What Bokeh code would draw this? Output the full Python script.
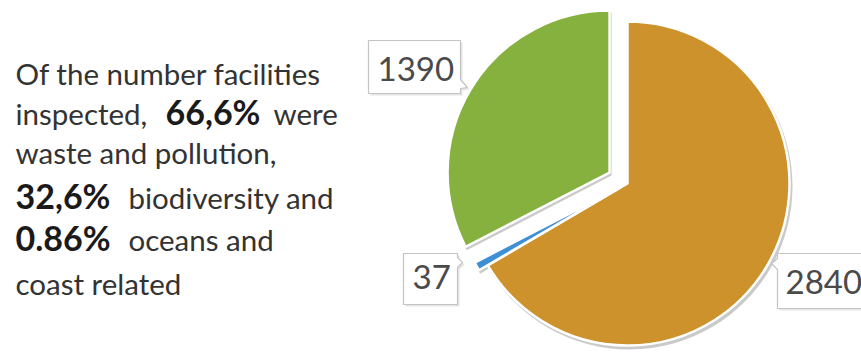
import numpy as np
from bokeh.plotting import figure
from bokeh.models import ColumnDataSource, Range1d
from bokeh.core.properties import value
from bokeh.embed import file_html
from bokeh.resources import INLINE

# ---- data ----
categories = ["Waste and pollution", "Oceans and coast", "Biodiversity"]
counts = [2840, 37, 1390]
colors = ["#CE922C", "#3D8FD6", "#86B13F"]
labels = ["2840", "37", "1390"]

# text block: (text, bold) segments per line
text_lines = [
    [("Of the number facilities", False)],
    [("inspected,", False), ("66,6%", True), ("were", False)],
    [("waste and pollution,", False)],
    [("32,6%", True), ("biodiversity and", False)],
    [("0.86%", True), ("oceans and", False)],
    [("coast related", False)],
]

# ---- layout (screen pixel positions) ----
W, H = 861, 352
FONT = "Lato"
NORM_SIZE, BOLD_SIZE, LABEL_SIZE = 29.5, 34, 33
FIX = 0.34  # baseline correction (em)

def sy(y):
    return H - y

p = figure(width=W, height=H, x_range=Range1d(0, W), y_range=Range1d(0, H),
           output_backend="svg", toolbar_location=None, min_border=0)
p.axis.visible = False
p.grid.visible = False
p.outline_line_color = None
p.background_fill_color = "white"
p.border_fill_color = "white"

# pie
cx, cy, r = 627, sy(183), 162
explode = np.array([0, 10, 21])
frac = np.array(counts) / sum(counts)
cum = np.concatenate([[0], np.cumsum(frac)])
start = np.pi / 2 - cum[:-1] * 2 * np.pi
end = np.pi / 2 - cum[1:] * 2 * np.pi
mid = (start + end) / 2
px = cx + explode * np.cos(mid)
py = cy + explode * np.sin(mid)

src = ColumnDataSource(dict(x=px, y=py, sx=px + 2, sy=py - 3, start=start, end=end,
                            color=colors, cat=categories))
p.wedge(x="sx", y="sy", radius=r + 1, start_angle="start", end_angle="end", direction="clock",
        source=src, fill_color="#8a8a8a", fill_alpha=0.45, line_color=None)
p.wedge(x="x", y="y", radius=r, start_angle="start", end_angle="end", direction="clock",
        source=src, fill_color="color", line_color="white", line_width=2.5)

# label boxes with callout pointers
box_shapes = [
    # 2840: pointer on left edge near top
    ([777, 866, 866, 777, 777, 771, 777], [253, 253, 308, 308, 269, 263, 258]),
    # 37: pointer on right edge near top
    ([403, 457, 457, 462, 457, 457, 403], [253, 253, 257, 262, 267, 304, 304]),
    # 1390: pointer on right edge near bottom
    ([368, 460, 460, 467, 460, 460, 368], [40, 40, 79, 87, 88, 93, 93]),
]
bxs = [b[0] for b in box_shapes]
bys = [[sy(v) for v in b[1]] for b in box_shapes]
sxs = [[v + 2 for v in b[0]] for b in box_shapes]
sys_ = [[sy(v) - 2 for v in b[1]] for b in box_shapes]
p.patches(xs=sxs, ys=sys_, fill_color="#cccccc", fill_alpha=0.5, line_color=None)
p.patches(xs=bxs, ys=bys, fill_color="white", line_color="#c4c4c4", line_width=1.2)

label_pos_x = [785, 412, 377]
label_base = [293, 288, 80]
label_pos_y = [sy(b - FIX * LABEL_SIZE) for b in label_base]
p.text(x=label_pos_x, y=label_pos_y, text=labels, text_font=value(FONT),
       text_font_size=f"{LABEL_SIZE}px", text_color="#4a4a4a", text_baseline="alphabetic",
       text_align="left")

# text block
seg_x = [[15], [15, 165, 273], [15], [15, 128], [15, 128], [15]]
line_base = [83, 123, 162, 207, 249, 293]
nx, ny, nt, bx, byy, bt = [], [], [], [], [], []
for li, line in enumerate(text_lines):
    for si, (t, bold) in enumerate(line):
        if bold:
            bx.append(seg_x[li][si]); byy.append(sy(line_base[li] - FIX * BOLD_SIZE)); bt.append(t)
        else:
            nx.append(seg_x[li][si]); ny.append(sy(line_base[li] - FIX * NORM_SIZE)); nt.append(t)
p.text(x=nx, y=ny, text=nt, text_font=value(FONT), text_font_size=f"{NORM_SIZE}px",
       text_color="#333333", text_baseline="alphabetic", text_align="left")
p.text(x=bx, y=byy, text=bt, text_font=value(FONT), text_font_size=f"{BOLD_SIZE}px",
       text_font_style="bold", text_color="#1a1a1a", text_baseline="alphabetic",
       text_align="left")

open("out.html", "w").write(file_html(p, INLINE))
